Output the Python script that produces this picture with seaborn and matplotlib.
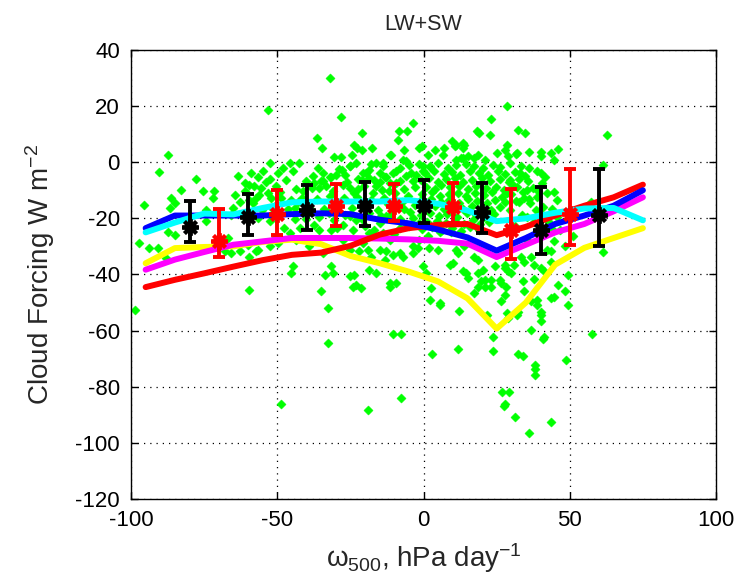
import matplotlib
matplotlib.use("Agg")
import matplotlib.pyplot as plt
import seaborn as sns
import pandas as pd

# ---------------- data ----------------
line_x = [-95, -85, -75, -65, -55, -45, -35, -25, -15, -5, 5, 15, 25, 35, 45, 55, 65, 75]
blue_cf = [-23.5, -19.0, -19.0, -19.0, -19.0, -18.5, -18.2, -18.5, -20.5, -21.8, -24.0, -26.8, -31.5, -27.0, -22.0, -19.0, -15.5, -10.0]
cyan_cf = [-25.0, -21.5, -18.3, -18.6, -16.3, -14.3, -14.0, -14.0, -14.0, -13.5, -14.8, -17.2, -21.0, -20.0, -18.0, -16.5, -16.3, -20.7]
magenta_cf = [-38.3, -34.7, -32.0, -29.4, -28.2, -27.0, -27.0, -27.0, -27.2, -27.5, -28.0, -29.0, -33.8, -29.4, -25.0, -22.0, -17.5, -12.5]
yellow_cf = [-36.0, -30.6, -30.2, -30.0, -28.4, -27.6, -29.2, -33.4, -36.0, -39.0, -42.5, -48.5, -59.3, -50.0, -36.5, -30.5, -27.0, -23.5]
red_cf = [-44.5, -41.9, -39.6, -37.2, -34.9, -33.0, -32.2, -29.8, -25.8, -23.5, -22.3, -22.0, -26.0, -23.0, -19.0, -15.5, -12.5, -8.0]

black_x = [-80, -60, -40, -20, 0, 20, 40, 60]
black_mean = [-23.1, -19.6, -16.9, -15.7, -15.7, -17.6, -24.3, -18.9]
black_top = [-13.9, -11.4, -8.0, -7.2, -6.5, -7.5, -8.7, -2.5]
black_bot = [-28.6, -26.0, -24.1, -22.9, -21.8, -25.2, -32.6, -30.0]

red_x = [-70, -50, -30, -10, 10, 30, 50]
red_mean = [-28.2, -18.4, -15.7, -15.5, -15.9, -24.3, -18.3]
red_top = [-16.7, -10.0, -7.7, -7.7, -7.5, -9.7, -2.5]
red_bot = [-33.6, -25.8, -22.6, -21.1, -21.6, -34.4, -29.6]

x_ticks = [-100, -50, 0, 50, 100]
y_ticks = [-120, -100, -80, -60, -40, -20, 0, 20, 40]

# scatter of individual (omega500, cloud forcing) points
scatter_pts = [
    (-32.1, 30.0), (-53.0, 18.7), (28.6, 20.2), (-87.2, 2.7), (-28.1, 16.0), (-36.3, 8.8), (-21.0, 10.3),
    (-34.7, 5.0), (-23.9, 6.2), (-22.6, 5.0), (-21.0, 4.2), (-17.6, 5.0), (-8.3, 11.0), (-5.8, 11.0),
    (-3.7, 14.0), (-6.8, 4.5), (-11.3, 2.7), (-30.6, 2.0), (-28.1, 1.7), (-24.6, 2.7), (-0.5, 5.6),
    (1.4, 2.7), (4.0, 4.2), (7.1, 5.0), (9.6, 7.4), (10.9, 5.9), (13.4, 6.8), (18.3, 11.0), (19.1, 10.4),
    (22.9, 15.5), (22.6, 9.8), (32.2, 11.3), (34.7, 10.4), (28.6, 6.2), (25.1, 3.3), (31.8, 3.3),
    (36.2, 3.5), (40.0, 3.5), (46.1, 4.7), (62.6, 9.8), (18.5, 2.7), (13.4, 1.5),
    (-25.1, -1.5), (-27.8, -2.7), (-34.4, -3.8), (-37.8, -5.0), (-37.3, -7.4), (-42.4, -0.3), (-13.9, -0.3),
    (-17.9, -0.6), (-11.0, 2.4), (-8.8, 8.0), (-7.1, 0.9), (-5.9, 0.3), (-9.3, -3.3), (-8.2, -2.1),
    (-4.8, -0.9), (-1.4, 5.0), (-0.2, -1.5), (-15.0, -3.8), (-12.8, -5.1), (-16.8, -6.2), (-11.6, -7.4),
    (-34.4, -6.8), (-33.3, -8.6), (-35.6, -9.2), (-27.6, -8.0), (-25.3, -9.2), (-19.6, -3.8), (-18.5, -5.6),
    (-16.2, -8.6), (-8.2, -6.8), (-5.9, -5.0), (-3.7, -6.8), (-2.5, -4.5),
    (11.2, 6.2), (14.0, 6.2), (13.4, 5.0), (6.6, 2.7), (27.7, 4.5), (28.8, 2.1), (31.7, 2.9), (40.2, 2.1),
    (43.7, 3.3), (15.1, 2.1), (17.4, 1.5), (20.9, 0.9), (11.2, 0.9), (12.9, 1.5),
    (2.0, -30.6), (4.9, -31.2), (11.2, -31.2), (11.7, -32.4), (14.0, -30.0), (18.6, -34.7), (17.4, -33.6),
    (10.0, -35.9), (13.4, -38.9), (14.6, -39.5), (20.3, -38.3), (20.9, -41.9), (24.3, -37.1), (27.7, -37.7),
    (30.0, -39.5), (26.0, -41.9), (28.3, -44.3), (33.4, -33.6), (34.5, -35.4), (36.8, -33.6), (37.9, -36.5),
    (40.2, -37.7), (43.7, -35.4), (31.1, -36.5), (15.1, -41.3), (23.1, -44.3), (33.9, -42.5), (18.6, -44.3),
    (1.5, -26.4), (5.5, -25.0), (9.5, -24.7),
    (-35.6, -24.1), (-31.6, -24.1), (-27.6, -22.3), (-24.2, -24.1), (-16.8, -24.1), (-13.9, -25.2),
    (-8.2, -23.5), (-4.8, -22.9), (-21.9, -31.8), (-19.1, -31.2), (-17.9, -33.6), (-15.0, -31.2),
    (-12.8, -31.8), (-10.5, -33.0), (-8.2, -32.4), (-7.1, -33.6), (-13.3, -34.7), (-18.5, -38.3),
    (-16.2, -39.5), (-31.6, -37.1), (-23.6, -40.1), (-24.2, -44.3), (-33.8, -40.1), (-11.6, -43.0),
    (-9.3, -43.0), (0.9, -39.5), (-0.2, -37.1), (-3.7, -32.4), (-2.0, -30.6), (-25.3, -19.3), (-23.0, -20.5),
    (-15.0, -21.7), (-12.8, -19.3),
    (-82.8, -9.8), (-75.5, -10.4), (-71.5, -10.4), (-72.0, -12.8), (-95.4, -15.1), (-86.3, -12.8),
    (-85.1, -14.5), (-86.8, -16.3), (-74.3, -16.9), (-64.6, -11.6), (-65.2, -16.3), (-65.8, -18.7),
    (-57.8, -8.6), (-55.5, -9.2), (-59.5, -13.4), (-57.2, -12.8), (-56.1, -11.6), (-53.2, -11.0),
    (-97.1, -28.8), (-93.7, -30.6), (-90.8, -30.6), (-88.0, -34.1), (-68.0, -31.8), (-65.8, -32.4),
    (-62.9, -31.8), (-59.5, -33.6), (-57.2, -31.8), (-60.1, -29.4), (-59.5, -45.4), (-50.9, -27.0),
    (-49.8, -28.8), (-66.9, -27.0), (-52.1, -12.8), (-50.4, -15.1), (-87.4, -24.7), (-85.1, -25.8),
    (-90.5, -3.6), (-77.7, -6.0), (-74.3, -21.1), (-98.8, -52.8), (-61.2, -7.4), (-59.5, -8.0),
    (-61.2, -10.4), (-56.6, -31.2), (-52.6, -30.0), (-56.6, -5.1), (-54.9, -3.3), (-52.6, -0.3),
    (-52.6, -6.0), (-50.4, -8.6), (-49.8, -3.8), (-48.1, -2.1), (-45.8, -0.3), (-46.9, -6.2),
    (-43.5, -9.6), (-41.3, -10.4), (-35.0, -6.8), (-32.1, -5.1), (-29.9, -4.5), (-25.3, -1.5),
    (-23.0, -0.3), (-20.7, -3.8), (-18.5, -2.7), (-16.2, -0.3), (-13.9, -1.5), (-10.5, -3.8), (-9.3, -7.4),
    (-0.2, -3.3), (2.1, -1.5),
    (-45.8, -25.2), (-43.5, -27.6), (-39.0, -30.0), (-36.7, -27.6), (-34.4, -32.4), (-27.6, -27.6),
    (-25.3, -31.2), (-20.7, -28.8), (-18.5, -25.2), (-11.6, -27.6), (-3.7, -30.0), (-1.4, -27.6),
    (-44.7, -37.1), (-45.2, -39.5), (-31.0, -39.5), (-25.3, -40.7), (-23.0, -43.7), (-21.3, -44.8),
    (-11.6, -44.3), (-35.0, -46.0),
    (-32.5, -52.0), (-32.5, -64.4), (-10.6, -61.2), (-7.7, -61.2), (-48.6, -86.2), (-19.1, -88.2),
    (-7.7, -84.0), (2.1, -49.0), (5.8, -50.8), (12.2, -52.9), (2.9, -68.4), (11.8, -66.5), (23.6, -62.3),
    (23.6, -67.4), (32.2, -68.4), (34.1, -69.0), (36.6, -59.7), (40.7, -63.0), (41.1, -62.1), (38.2, -72.2),
    (38.2, -73.6), (38.2, -75.7), (48.6, -70.6), (57.5, -61.2), (26.7, -82.0), (29.3, -82.0), (28.0, -86.1),
    (27.6, -87.0), (31.2, -90.6), (36.2, -96.5), (43.6, -92.4), (38.8, -50.8), (38.8, -49.0), (40.0, -53.5),
    (21.7, -54.3), (28.6, -53.7), (31.8, -54.3),
    (8.9, -36.5), (2.6, -44.8), (5.5, -50.2), (17.4, -46.6), (20.9, -44.3), (19.7, -42.5), (18.6, -39.5),
    (23.1, -41.9), (26.6, -43.0), (27.7, -47.2), (26.6, -49.6), (28.9, -55.5), (34.5, -46.0), (32.2, -53.2),
    (36.8, -49.6), (40.2, -54.3), (40.2, -56.7), (43.7, -48.4), (49.4, -50.8), (48.2, -46.0), (45.9, -43.7),
    (49.4, -40.1), (28.8, -38.9), (27.7, -36.5), (48.2, -30.0), (43.7, -31.8),
    (61.2, -1.0), (61.5, -32.0), (44.6, -48.2), (37.7, -41.6), (41.1, -38.6), (42.3, -31.4), (44.6, -27.9),
    (44.0, -23.7), (45.7, -19.5), (44.6, -10.5), (42.3, -11.1), (45.7, -13.5), (44.0, -16.5), (36.5, -14.7),
    (38.8, -12.3), (38.3, -17.1), (35.4, -19.5), (29.6, -6.3), (31.9, -8.7), (28.5, -11.1), (33.1, -4.0),
    (35.4, -9.9), (40.0, -4.0), (44.6, 0.9), (57.3, -14.0), (51.0, -26.4),
    (-1.5, -0.8), (2.3, -1.6), (5.1, -0.3), (8.4, -1.9), (11.0, -1.1), (14.6, -0.5), (17.2, -1.4), (20.5, -2.2),
    (23.8, -0.9), (26.1, -1.7), (29.7, -0.4), (33.2, -1.2), (36.0, -2.0),
    (0.4, -3.7), (3.6, -3.1), (6.9, -4.2), (9.8, -3.4), (12.5, -4.6), (15.9, -3.0), (18.8, -3.9), (22.1, -4.4),
    (25.4, -3.3), (28.0, -4.1), (31.3, -3.6), (34.8, -4.8), (38.9, -3.2), (41.5, -5.1),
    (-1.0, -6.3), (2.0, -5.8), (4.8, -6.9), (7.7, -6.1), (10.9, -5.5), (13.6, -7.0), (16.7, -6.4), (19.9, -5.7),
    (22.6, -6.8), (26.3, -6.0), (29.2, -7.2), (32.5, -5.9), (35.6, -6.6), (40.4, -7.4),
    (0.9, -8.8), (3.9, -9.4), (6.1, -8.2), (9.2, -9.0), (12.1, -8.5), (15.3, -9.7), (18.1, -8.3), (21.4, -9.2),
    (24.7, -8.7), (27.5, -9.9), (30.8, -8.4), (33.9, -10.6), (37.4, -9.1),
    (-0.6, -11.2), (2.8, -10.7), (5.6, -11.9), (8.6, -11.4), (11.7, -10.9), (14.4, -12.1), (17.6, -11.0),
    (20.6, -11.6), (23.3, -10.5), (26.9, -12.3), (29.9, -11.3), (34.2, -12.8), (39.0, -10.2),
    (-1.2, -13.8), (2.5, -13.2), (5.9, -14.1), (8.8, -13.5), (12.0, -14.4), (15.1, -13.0), (18.3, -13.9),
    (21.6, -14.6), (24.5, -13.4), (27.8, -14.2), (31.5, -13.7),
    (0.6, -16.2), (3.8, -15.7), (7.0, -16.6), (10.3, -15.9), (13.4, -16.8), (16.6, -15.5), (19.7, -16.4),
    (23.0, -17.1), (26.2, -16.0), (29.4, -16.9),
    (-0.9, -18.7), (2.1, -18.2), (5.3, -19.1), (8.1, -18.5), (11.4, -19.4), (14.7, -18.0), (17.8, -18.9),
    (20.8, -19.6), (24.0, -18.3),
    (1.2, -21.3), (4.5, -20.8), (7.6, -21.7), (10.8, -21.0), (13.9, -22.0), (17.0, -20.6), (19.4, -21.9),
    (22.5, -21.2),
    (-0.4, -23.8), (3.0, -23.2), (6.4, -24.1), (9.6, -23.5), (12.7, -24.5), (15.8, -23.0), (18.9, -24.2),
    (-31.5, -5.4), (-26.8, -4.7), (-22.4, -5.9), (-13.1, -5.2), (-4.2, -3.9),
    (-38.1, -9.3), (-31.0, -10.1), (-22.5, -9.6), (-20.3, -8.4), (-14.2, -9.9), (-11.8, -10.3), (-6.6, -9.5),
    (-3.0, -8.9),
    (-41.7, -12.6), (-36.4, -13.0), (-31.9, -12.2), (-27.1, -12.9), (-22.6, -12.4), (-17.9, -13.3),
    (-13.5, -12.7), (-9.6, -13.6), (-5.3, -12.1),
    (-43.8, -16.4), (-39.2, -15.8), (-34.0, -16.7), (-29.3, -15.5), (-24.4, -16.2), (-19.8, -15.6),
    (-15.7, -16.9), (-10.9, -15.9), (-6.6, -16.5), (-2.9, -15.4),
    (-40.3, -20.1), (-35.8, -19.6), (-30.6, -20.7), (-21.2, -20.3), (-8.0, -20.2), (-3.6, -19.8),
    (-58.3, -14.7), (-55.1, -17.2), (-52.4, -21.0), (-48.7, -12.9), (-46.2, -16.8), (-44.0, -20.4),
    (-50.9, -19.3), (-47.6, -23.3), (-42.8, -14.0), (-41.0, -18.2),
    (32.6, -14.3), (35.9, -13.1), (33.8, -18.9), (37.7, -21.2), (40.9, -16.0), (31.2, -22.8), (42.6, -20.9),
    (46.8, -24.0), (39.4, -25.6), (35.1, -27.4),
    (-44.5, -3.2), (-40.1, -6.8), (-36.2, -1.9), (-29.0, -2.4), (-26.2, -6.9), (-23.8, -10.8), (-20.9, -6.5),
    (-17.2, -10.9), (-14.8, -7.1), (-12.3, -14.8), (-9.9, -11.1), (-7.4, -14.0), (-4.6, -17.7), (-1.7, -21.5),
    (-6.0, -22.0), (-11.2, -18.6), (-14.4, -19.0), (-18.7, -18.1), (-26.7, -18.9), (-32.3, -18.0),
    (-37.6, -22.2), (-42.1, -23.6), (-29.7, -23.5), (-20.0, -22.7), (-10.2, -25.5),
    (-58.9, -3.9), (-54.0, -7.2), (-48.9, -10.7), (-45.3, -13.5), (-51.4, -16.6), (-56.5, -19.8),
    (-62.7, -14.2), (-63.5, -5.0),
]

# ---------------- style ----------------
sns.set_theme(style="white")
plt.rcParams["font.family"] = ["Liberation Sans", "DejaVu Sans"]
plt.rcParams["mathtext.fontset"] = "custom"
plt.rcParams["mathtext.rm"] = "Liberation Sans"
plt.rcParams["mathtext.it"] = "Liberation Sans"

fig = plt.figure(figsize=(7.41, 5.84), dpi=100)
ax = fig.add_axes([0.1768, 0.1455, 0.7895, 0.769])

scat = pd.DataFrame(scatter_pts, columns=["omega", "cf"])
sns.scatterplot(data=scat, x="omega", y="cf", ax=ax, marker="D", s=22,
                color="#00ff00", edgecolor="#00ff00", linewidth=0.3, zorder=2, legend=False)

lines = [(yellow_cf, "#ffff00"), (magenta_cf, "#ff00ff"), (red_cf, "#ff0000"),
         (blue_cf, "#0000ff"), (cyan_cf, "#00ffff")]
for vals, col in lines:
    df = pd.DataFrame({"x": line_x, "y": vals})
    sns.lineplot(data=df, x="x", y="y", ax=ax, color=col, linewidth=4.3,
                 sort=False, estimator=None, zorder=3, legend=False)

for xs, mean, top, bot, col in [(black_x, black_mean, black_top, black_bot, "black"),
                                (red_x, red_mean, red_top, red_bot, "#ff0000")]:
    lo = [m - b for m, b in zip(mean, bot)]
    hi = [t - m for m, t in zip(mean, top)]
    ax.errorbar(xs, mean, yerr=[lo, hi], fmt="none", ecolor=col, elinewidth=2.8,
                capsize=4.0, capthick=2.8, zorder=4)
    ax.plot(xs, mean, linestyle="none", marker=(8, 2, 0), markersize=12,
            markeredgewidth=2.8, color=col, zorder=5)

ax.set_xlim(-100, 100)
ax.set_ylim(-120, 40)
ax.set_xticks(x_ticks)
ax.set_yticks(y_ticks)
ax.set_xticklabels([str(t) for t in x_ticks])
ax.set_yticklabels([str(t) for t in y_ticks])
ax.grid(True, linestyle=(0, (1, 4)), color="black", linewidth=0.9)
ax.set_axisbelow(True)
for sp in ax.spines.values():
    sp.set_visible(True)
    sp.set_color("black")
    sp.set_linewidth(1.0)
ax.tick_params(axis="both", which="both", direction="in", length=5, width=1,
               top=True, right=True, bottom=True, left=True, labelsize=16, colors="black", pad=8)

ax.set_title("LW+SW", fontsize=15.5, pad=14)
ax.set_xlabel("ω$_{500}$, hPa day$^{-1}$", fontsize=20, labelpad=7)
ax.set_ylabel("Cloud Forcing W m$^{-2}$", fontsize=20, labelpad=13)

fig.savefig("out.png", dpi=100, facecolor="white")
